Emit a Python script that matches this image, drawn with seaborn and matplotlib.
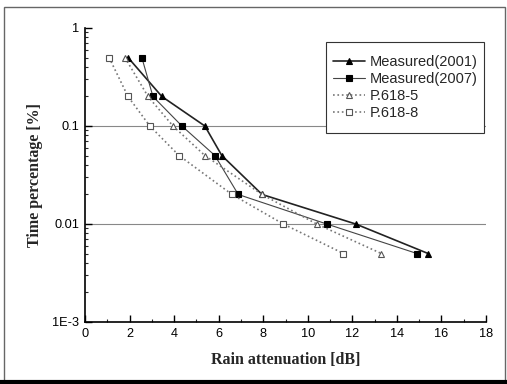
import matplotlib
matplotlib.use("Agg")
import matplotlib.pyplot as plt
import seaborn as sns
import pandas as pd
from matplotlib import ticker
from matplotlib.patches import Rectangle
from matplotlib.lines import Line2D

# values
time_pct = [0.5, 0.2, 0.1, 0.05, 0.02, 0.01, 0.005]
meas_2001 = [1.93, 3.45, 5.38, 6.14, 7.95, 12.15, 15.4]
meas_2007 = [2.55, 3.05, 4.35, 5.83, 6.88, 10.85, 14.9]
p618_5 = [1.79, 2.83, 3.95, 5.38, 7.95, 10.4, 13.3]
p618_8 = [1.08, 1.93, 2.91, 4.22, 6.6, 8.9, 11.6]

series = {
    "Measured(2001)": meas_2001,
    "Measured(2007)": meas_2007,
    "P.618-5": p618_5,
    "P.618-8": p618_8,
}
styles = {
    "Measured(2001)": dict(color="#222222", linestyle="-", linewidth=1.2, marker="^",
                           markerfacecolor="black", markeredgecolor="black"),
    "Measured(2007)": dict(color="#444444", linestyle="-", linewidth=0.8, marker="s",
                           markerfacecolor="black", markeredgecolor="black"),
    "P.618-5": dict(color="#777777", linestyle=":", linewidth=1.2, marker="^",
                    markerfacecolor="white", markeredgecolor="#555555"),
    "P.618-8": dict(color="#777777", linestyle=":", linewidth=1.2, marker="s",
                    markerfacecolor="white", markeredgecolor="#555555"),
}

sns.set_style("ticks")
plt.rcParams["font.family"] = ["Liberation Sans", "DejaVu Sans"]

W, H = 507, 384
fig = plt.figure(figsize=(W / 100, H / 100), dpi=100)
ax = fig.add_axes([85 / W, 1 - 322 / H, 401 / W, 294 / H])

for name, vals in series.items():
    df = pd.DataFrame({"x": vals, "y": time_pct})
    sns.lineplot(data=df, x="x", y="y", sort=False, label=name, ax=ax,
                 markersize=5, markeredgewidth=0.8, **styles[name])

ax.set_yscale("log")
ax.set_xlim(0, 18)
ax.set_ylim(1e-3, 1)

# reference lines at 0.1 and 0.01
for yv in (0.1, 0.01):
    ax.axhline(yv, color="#888888", linewidth=0.8, zorder=0)

ax.xaxis.set_major_locator(ticker.MultipleLocator(2))
ax.xaxis.set_minor_locator(ticker.MultipleLocator(1))
ax.yaxis.set_major_locator(ticker.FixedLocator([1e-3, 1e-2, 1e-1, 1]))
ax.yaxis.set_minor_locator(ticker.LogLocator(base=10, subs=range(2, 10)))
ylabels = {1e-3: "1E-3", 1e-2: "0.01", 1e-1: "0.1", 1: "1"}
ax.yaxis.set_major_formatter(ticker.FuncFormatter(
    lambda v, pos: min(ylabels.items(), key=lambda kv: abs(kv[0] - v))[1]))
ax.yaxis.set_minor_formatter(ticker.NullFormatter())

ax.tick_params(which="major", direction="in", length=5, width=1, labelsize=9.2,
               colors="black", pad=4)
ax.tick_params(which="minor", direction="in", length=2.5, width=0.8)
sns.despine(ax=ax)
for s in ("left", "bottom"):
    ax.spines[s].set_linewidth(1.2)
    ax.spines[s].set_color("black")

ax.set_xlabel("Rain attenuation [dB]", family=["Liberation Serif"], weight="bold",
              fontsize=11.5)
ax.set_ylabel("Time percentage [%]", family=["Liberation Serif"], weight="bold",
              fontsize=11.5)
ax.xaxis.set_label_coords(0.5, -0.102)
ax.yaxis.set_label_coords(-0.105, 0.5)

# legend box spans roughly x 326-484, y 42-133 px
lx0, lx1, ly0, ly1 = 326, 484, 42, 133
ax.add_patch(Rectangle((lx0 / W, 1 - ly1 / H), (lx1 - lx0) / W, (ly1 - ly0) / H,
                       transform=fig.transFigure, facecolor="white",
                       edgecolor="#333333", linewidth=0.8, zorder=4, clip_on=False))
leg = ax.legend(loc="center", bbox_to_anchor=((lx0 + lx1) / 2 / W, 1 - (ly0 + ly1) / 2 / H),
                bbox_transform=fig.transFigure, fontsize=10.5, frameon=False,
                handlelength=2.2, handletextpad=0.3, labelspacing=0.2, borderpad=0.3)
leg.set_zorder(5)

# page border around the figure
fig.patches.append(Rectangle((4 / W, 3 / H), 501 / W, 374 / H,
                             transform=fig.transFigure, fill=False,
                             edgecolor="#666666", linewidth=1))
fig.lines.append(Line2D([0, 1], [2 / H, 2 / H], transform=fig.transFigure,
                        color="black", linewidth=3))

fig.savefig("out.png", dpi=100)
